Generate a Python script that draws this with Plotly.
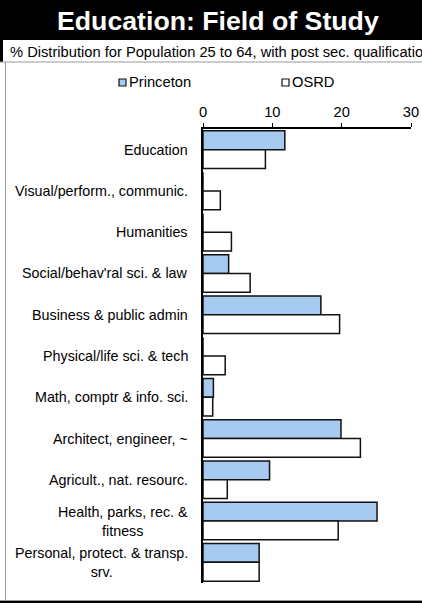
import plotly.graph_objects as go

categories = [
    "Education",
    "Visual/perform., communic.",
    "Humanities",
    "Social/behav'ral sci. & law",
    "Business & public admin",
    "Physical/life sci. & tech",
    "Math, comptr & info. sci.",
    "Architect, engineer, ~",
    "Agricult., nat. resourc.",
    "Health, parks, rec. &<br>fitness",
    "Personal, protect. & transp.<br>srv.",
]
princeton = [11.8, 0, 0, 3.7, 17.0, 0, 1.5, 19.9, 9.6, 25.1, 8.1]
osrd = [9.0, 2.5, 4.1, 6.8, 19.7, 3.2, 1.4, 22.7, 3.5, 19.5, 8.1]
x_ticks = [0, 10, 20, 30]
series_names = ["Princeton", "OSRD"]
series_colors = ["#A6CAF0", "#FFFFFF"]

title_text = "Education: Field of Study"
subtitle_text = "% Distribution for Population 25 to 64, with post sec. qualification"

W, H = 422, 603
ML, MR, MT, MB = 203, 11, 129, 20
PW, PH = W - ML - MR, H - MT - MB


def px(x):
    return (x - ML) / PW


def py(y):
    return (H - MB - y) / PH


FONT = "Arial, 'Liberation Sans', sans-serif"
FS = 14.7
FS_CAT = 14.3

fig = go.Figure()
for name, vals, col in zip(series_names, [princeton, osrd], series_colors):
    fig.add_trace(go.Bar(
        y=categories, x=vals, name=name, orientation="h",
        marker=dict(color=col, line=dict(color="#111111", width=1.5)),
    ))

shapes = [
    dict(type="rect", xref="paper", yref="paper", x0=px(0), x1=px(W), y0=py(0), y1=py(40),
         fillcolor="black", line=dict(width=0), layer="below"),
    dict(type="rect", xref="paper", yref="paper", x0=px(0), x1=px(3), y0=py(0), y1=py(62),
         fillcolor="black", line=dict(width=0), layer="below"),
    dict(type="line", xref="paper", yref="paper", x0=px(0), x1=px(W), y0=py(62), y1=py(62),
         line=dict(color="#999999", width=1)),
    dict(type="line", xref="paper", yref="paper", x0=px(5.5), x1=px(5.5), y0=py(62), y1=py(601),
         line=dict(color="#999999", width=1)),
    dict(type="line", xref="paper", yref="paper", x0=px(0), x1=px(W), y0=py(600.5), y1=py(600.5),
         line=dict(color="#999999", width=1)),
    dict(type="line", xref="paper", yref="paper", x0=px(0), x1=px(W), y0=py(602), y1=py(602),
         line=dict(color="#000000", width=2)),
]

# legend drawn by hand (small squares right before the text, as in the reference)
legend_sq_x = [119, 282]
for name, col, sx in zip(series_names, series_colors, legend_sq_x):
    shapes.append(dict(type="rect", xref="paper", yref="paper", x0=px(sx), x1=px(sx + 7),
                       y0=py(79), y1=py(86), fillcolor=col, line=dict(color="#111111", width=1.2)))

annotations = [
    dict(text=f"<b>{title_text}</b>", xref="paper", yref="paper", x=px(218), y=py(21),
         xanchor="center", yanchor="middle", showarrow=False,
         font=dict(family=FONT, size=26.7, color="white")),
    dict(text=subtitle_text, xref="paper", yref="paper", x=px(8), y=py(52),
         xanchor="left", yanchor="middle", showarrow=False,
         font=dict(family=FONT, size=FS, color="black")),
]
for name, sx in zip(series_names, legend_sq_x):
    annotations.append(dict(text=name, xref="paper", yref="paper", x=px(sx + 8), y=py(82.5),
                            xanchor="left", yanchor="middle", showarrow=False,
                            font=dict(family=FONT, size=FS, color="black")))
for c in categories:
    annotations.append(dict(
        text=c, xref="paper", yref="y", x=px(189.5), y=c, xanchor="right", yanchor="middle",
        align="center", showarrow=False, font=dict(family=FONT, size=FS_CAT, color="black"),
    ))

fig.update_layout(
    width=W, height=H, autosize=False,
    margin=dict(l=ML, r=MR, t=MT, b=MB, pad=0, autoexpand=False),
    paper_bgcolor="white", plot_bgcolor="white",
    barmode="group", bargap=0.09, bargroupgap=0,
    font=dict(family=FONT, size=FS, color="black"),
    showlegend=False,
    xaxis=dict(side="top", range=[0, 30], tickvals=x_ticks, ticktext=[str(t) for t in x_ticks],
               showgrid=False, zeroline=False, showline=True, linecolor="black", linewidth=1.5,
               ticks="outside", ticklen=4, tickcolor="black", tickfont=dict(family=FONT, size=FS),
               automargin=False),
    yaxis=dict(autorange="reversed", showticklabels=False, showgrid=False, zeroline=False,
               showline=True, linecolor="black", linewidth=1.5, ticks="", automargin=False),
    shapes=shapes, annotations=annotations,
)

fig.write_html("out.html", config={"displayModeBar": False},
               post_script="document.body.style.margin='0';document.body.style.overflow='hidden';")
